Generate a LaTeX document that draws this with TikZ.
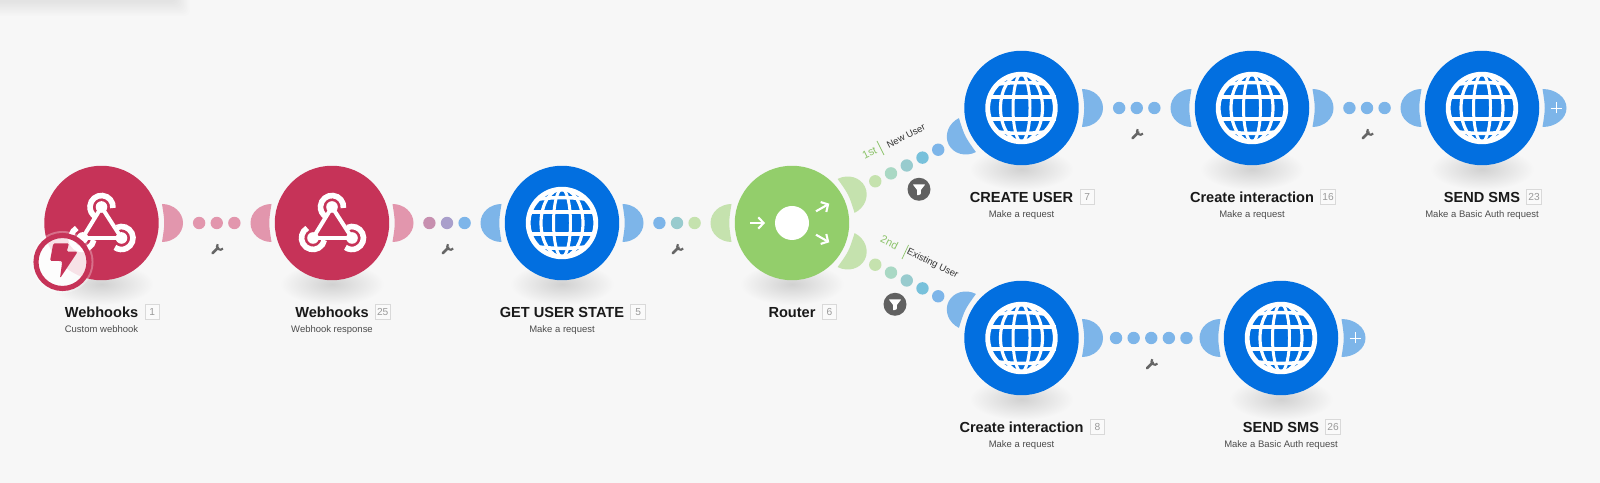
\documentclass[tikz,border=0pt]{standalone}
\usepackage{fontspec}
\setmainfont{Liberation Sans}
\usetikzlibrary{calc, positioning}
\usetikzlibrary{arrows.meta}
\definecolor{bgc}{HTML}{F7F7F7}
\definecolor{hookc}{HTML}{C63358}
\definecolor{webc}{HTML}{026FE0}
\definecolor{routec}{HTML}{93CE6B}
\definecolor{pinkc}{HTML}{E296AD}
\definecolor{bluec}{HTML}{7DB5E9}
\definecolor{leafc}{HTML}{C5E2AE}
\definecolor{mauvec}{HTML}{C78FAF}
\definecolor{lilacc}{HTML}{A99FCB}
\definecolor{sagec}{HTML}{A9D8C4}
\definecolor{tealc}{HTML}{98CBCE}
\definecolor{skyc}{HTML}{78C1DB}
\definecolor{toolc}{HTML}{666666}
\definecolor{namec}{HTML}{8CC36A}
\tikzset{
	module/.style={circle,minimum size=2.29cm,inner sep=0,outer sep=0},
	title/.style={font=\fontsize{8.3}{9}\selectfont\bfseries,text=black!90,inner sep=0,text height=6pt,text depth=0pt},
	numbox/.style={font=\fontsize{5.8}{6}\selectfont,text=black!40,draw=black!15,fill=black!2,line width=0.5pt,minimum size=0.29cm,inner sep=0},
	subtitle/.style={font=\fontsize{5.4}{6}\selectfont,text=black!70,inner sep=0,text height=4pt,text depth=1.1pt},
	branch/.style={font=\fontsize{5.4}{6}\selectfont,inner sep=0},
	branchno/.style={font=\fontsize{6.2}{7}\selectfont,text=namec,inner sep=0},
	moon/.pic={
		\fill (60.5,-19) arc[start angle=-90,end angle=90,x radius=21,y radius=19] .. controls (63.5,0) .. (60.5,-19) -- cycle;
	},
	endmoon/.pic={
		\fill (60.5,-19) arc[start angle=-90,end angle=90,x radius=24,y radius=19] .. controls (63.5,0) .. (60.5,-19) -- cycle;
		\draw[white,line width=0.4pt] (68.5,0) -- (79.5,0);
		\draw[white,line width=0.4pt] (74,-5.5) -- (74,5.5);
	},
	globe/.pic={
		\draw[white,line width=1.8pt] (0,0) ellipse [x radius=21,y radius=34];
		\draw[white,line width=1.7pt] (0,0) ellipse [x radius=8.5,y radius=34];
		\draw[white,line width=2.5pt] (-34,11) -- (34,11);
		\draw[white,line width=2.5pt] (-34,-11) -- (34,-11);
		\draw[white,line width=2pt] (-23,24) to [bend left=6] (23,24);
		\draw[white,line width=2pt] (-23,-24) to [bend right=6] (23,-24);
		\draw[white,line width=2.75pt] (0,0) circle (33.8);
	},
	hookicon/.pic={
		\draw[white,line width=2.3pt] (0,16) -- (-19,-15);
		\draw[white,line width=2.3pt] (0,16) -- (20,-15);
		\draw[white,line width=2.3pt] (-19,-15) -- (20,-15);
		\fill[white] (0,16) circle (5.8);
		\fill[white] (-19,-15) circle (5.8);
		\fill[white] (20,-15) circle (5.8);
		\draw[white,line width=3.2pt] (0,16) ++(-5:11.5) arc[start angle=-5,end angle=240,radius=11.5];
		\draw[white,line width=3.2pt] (-19,-15) ++(120:11.5) arc[start angle=120,end angle=350,radius=11.5];
		\draw[white,line width=3.2pt] (20,-15) ++(115:11.5) arc[start angle=115,end angle=-125,radius=11.5];
	},
	routeicon/.pic={
		\fill[white] (0,0) circle (17);
		\draw[white,line width=1.2pt,-{Straight Barb[length=3pt,width=6.5pt]}] (-42,0) -- (-27,0);
		\draw[white,line width=1.2pt,-{Straight Barb[length=3pt,width=6.5pt]}] (24,11.7) -- (37.3,19.3);
		\draw[white,line width=1.2pt,-{Straight Barb[length=3pt,width=6.5pt]}] (24,-11.7) -- (37.3,-19.3);
	},
	wrench/.pic={
		\draw[toolc,line width=1.6pt,line cap=round] (-4.2,-4.2) -- (1.5,1.5);
		\draw[toolc,line width=1.2pt] (1,4.8) arc[start angle=140,end angle=320,radius=3.4] ;
	},
	funnel/.pic={
		\fill[toolc!95!black] (0,0) circle (11.5);
		\fill[white,rounded corners=0.4pt] (-6.3,5) -- (6.3,5) -- (1.8,-0.8) -- (1.8,-5) -- (-1.8,-6.2) -- (-1.8,-0.8) -- cycle;
	},
}
\begin{document}
\begin{tikzpicture}[x=0.02cm,y=0.02cm]
	\useasboundingbox (0,0) rectangle (1600,483);
	\fill[bgc] (0,0) rectangle (1600,483);
	\foreach \k in {0,...,9}
		\fill[black,opacity=0.007,rounded corners=3pt] (-10,483-16+\k*1.5) rectangle (190-\k*1.5,493);

	% modules
	\foreach \name/\px/\py/\col/\icon/\text/\num/\sub in {
		hookA/101.5/260/hookc/hookicon/Webhooks/1/Custom webhook,
		hookB/332/260/hookc/hookicon/Webhooks/25/Webhook response,
		state/562/260/webc/globe/GET USER STATE/5/Make a request,
		router/792/260/routec/routeicon/Router/6/,
		create/1021.5/375/webc/globe/CREATE USER/7/Make a request,
		interA/1252/375/webc/globe/Create interaction/16/Make a request,
		smsA/1482/375/webc/globe/SEND SMS/23/Make a Basic Auth request,
		interB/1021.5/145/webc/globe/Create interaction/8/Make a request,
		smsB/1281/145/webc/globe/SEND SMS/26/Make a Basic Auth request}
	{
		\shade[inner color=black!18,outer color=bgc] (\px,\py-61) ellipse [x radius=52,y radius=21];
		\node[module,fill=\col] (\name) at (\px,\py) {};
		\pic at (\name) {\icon};
		\node[title,below=14.9pt of \name] (\name-title) {\text};
		\node[numbox,right=3.4pt of \name-title] (\name-num) {\num};
		\node[subtitle,below=4.4pt of \name-title] (\name-sub) {\sub};
	}

	% connectors between the modules
	\foreach \from/\to/\ang/\ca/\cb/\n/\dotlist in {
		hookA/hookB/0/pinkc/pinkc/3/{pinkc,pinkc,pinkc},
		hookB/state/0/pinkc/bluec/3/{mauvec,lilacc,bluec},
		state/router/0/bluec/leafc/3/{bluec,tealc,leafc},
		router/create/26.6/leafc/bluec/5/{leafc,sagec,tealc,skyc,bluec},
		router/interB/-26.6/leafc/bluec/5/{leafc,sagec,tealc,skyc,bluec},
		create/interA/0/bluec/bluec/3/{bluec,bluec,bluec},
		interA/smsA/0/bluec/bluec/3/{bluec,bluec,bluec},
		interB/smsB/0/bluec/bluec/5/{bluec,bluec,bluec,bluec,bluec}}
	{
		\pic[rotate=\ang,color=\ca] at (\from) {moon};
		\pic[rotate=\ang+180,color=\cb] at (\to) {moon};
		\foreach \c [count=\k] in \dotlist {
			\pgfmathsetmacro{\off}{(\k-(\n+1)/2)*10.02}
			\fill[\c] ($(\from)!0.5!(\to)!\off pt!(\to)$) circle (6.2);
		}
	}

	% wrenches under the straight links
	\foreach \from/\to in {hookA/hookB,hookB/state,state/router,create/interA,interA/smsA,interB/smsB}
		\pic at ($($(\from)!0.5!(\to)$)+(0,-26)$) {wrench};

	% open ends
	\foreach \name in {smsA,smsB}
		\pic[color=bluec] at (\name) {endmoon};

	% router branches
	\pic at (919,293.7) {funnel};
	\pic at (895,178.7) {funnel};
	\node[branchno,rotate=26.6] (firstno) at (869.5,330.3) {1st};
	\node[branch,text=black!80,rotate=26.6] (firstname) at (906,347) {New User};
	\draw[namec,line width=0.4pt] (877,342) -- (884,328);
	\node[branchno,rotate=-26.6] (secondno) at (889.5,240.8) {2nd};
	\node[branch,text=black!80,rotate=-26.6] (secondname) at (932.5,219.3) {Existing User};
	\draw[namec,line width=0.4pt] (908.5,238) -- (902,224);

	% trigger badge
	\fill[white,opacity=0.3] (62.5,221) circle (31);
	\fill[white,opacity=0.8] (62.5,221) circle (26);
	\draw[hookc,line width=2.9pt] (62.5,221) circle (26.5);
	\fill[hookc,rounded corners=0.8pt] (53.3,239.7) -- (69,239.7) -- (66.7,231.3) -- (77.7,231.3) -- (60,204.7) -- (62.3,222) -- (50,222) -- cycle;
\end{tikzpicture}
\end{document}
